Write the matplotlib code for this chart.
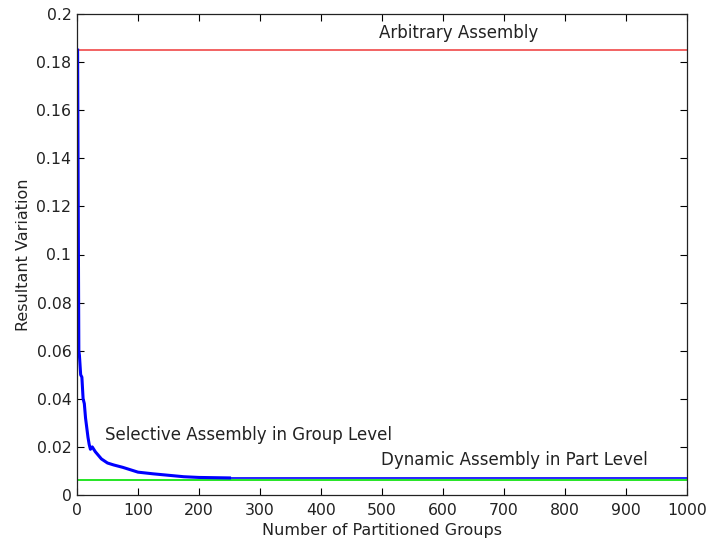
import matplotlib
matplotlib.use("Agg")
import matplotlib.pyplot as plt

plt.rcParams['font.family'] = ['DejaVu Sans']

# Resultant variation versus number of partitioned groups
groups = [1, 2, 3, 4, 6, 8, 10, 12, 14, 16, 18, 20, 22, 25, 30, 40, 50, 60, 75, 90, 100, 125, 150, 175, 200, 250]
variation = [0.185, 0.121, 0.06, 0.058, 0.05, 0.049, 0.040, 0.038, 0.032, 0.028, 0.024, 0.021, 0.019, 0.020, 0.018, 0.015, 0.0133, 0.0125, 0.0115, 0.0103, 0.0095, 0.0088, 0.0082, 0.0076, 0.0073, 0.0071]
tail_groups = [250, 1000]
tail_variation = [0.0069, 0.0069]

arbitrary_level = 0.185
dynamic_level = 0.0062

x_ticks = [0, 100, 200, 300, 400, 500, 600, 700, 800, 900, 1000]
y_ticks = [0, 0.02, 0.04, 0.06, 0.08, 0.1, 0.12, 0.14, 0.16, 0.18, 0.2]
y_tick_labels = ["0", "0.02", "0.04", "0.06", "0.08", "0.1", "0.12", "0.14", "0.16", "0.18", "0.2"]

FS = 12
TICK_FS = 11.3
TXT = "#222222"

fig = plt.figure(figsize=(7.06, 5.45), dpi=100)
ax = fig.add_axes([77 / 706, 1 - 495 / 545, 610 / 706, 481 / 545])

ax.axhline(arbitrary_level, color="#f04848", lw=1.2)
ax.axhline(dynamic_level, color="#00e000", lw=1.2)
ax.plot(tail_groups, tail_variation, color="#0000ff", lw=1.2)
ax.plot(groups, variation, color="#0000ff", lw=2.2)

ax.text(626, 0.192, "Arbitrary Assembly", ha="center", va="center", fontsize=FS, color=TXT)
ax.text(46, 0.025, "Selective Assembly in Group Level", ha="left", va="center", fontsize=FS, color=TXT)
ax.text(498, 0.0146, "Dynamic Assembly in Part Level", ha="left", va="center", fontsize=FS, color=TXT)

ax.set_xlim(0, 1000)
ax.set_ylim(0, 0.2)
ax.set_xticks(x_ticks)
ax.set_yticks(y_ticks)
ax.set_yticklabels(y_tick_labels)
ax.tick_params(direction="in", top=True, right=True, labelsize=TICK_FS, length=5, width=0.8,
               labelcolor=TXT)
ax.tick_params(axis="x", pad=6)
ax.tick_params(axis="y", pad=4)
for s in ax.spines.values():
    s.set_linewidth(0.9)
    s.set_color(TXT)

ax.set_xlabel("Number of Partitioned Groups", fontsize=11.5, color=TXT, labelpad=3)
ax.set_ylabel("Resultant Variation", fontsize=11.5, color=TXT, labelpad=4)

fig.savefig("out.png", dpi=100)
